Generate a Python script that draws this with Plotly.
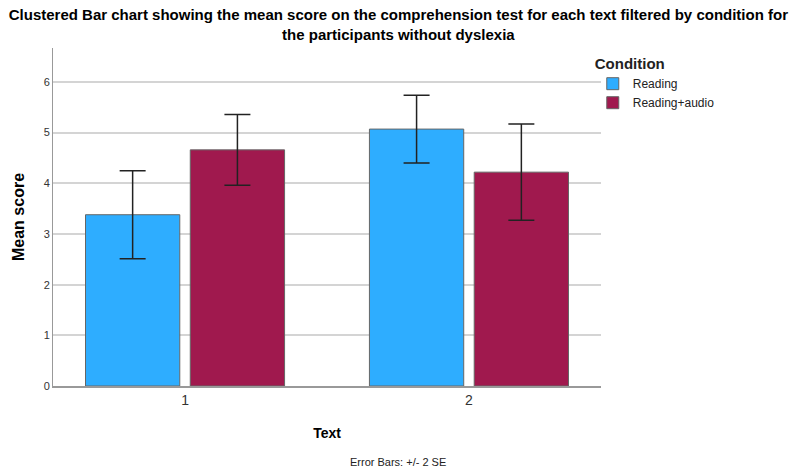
import plotly.graph_objects as go

texts = ["1", "2"]
conditions = ["Reading", "Reading+audio"]
means_reading = [3.38, 5.07]
means_audio = [4.66, 4.22]
err_reading = [0.87, 0.67]
err_audio = [0.70, 0.95]
colors = ["#2EADFF", "#A0194E"]

fig = go.Figure()
for name, vals, errs, col in [
    (conditions[0], means_reading, err_reading, colors[0]),
    (conditions[1], means_audio, err_audio, colors[1]),
]:
    fig.add_trace(go.Bar(
        x=texts, y=vals, name=name,
        marker=dict(color=col, line=dict(color="#666666", width=1)),
        error_y=dict(type="data", array=errs, visible=True, color="#222222",
                     thickness=1.5, width=13),
    ))

fig.update_layout(
    width=792, height=468,
    paper_bgcolor="white", plot_bgcolor="white",
    margin=dict(l=53, r=191, t=48, b=82, autoexpand=False),
    barmode="group", bargap=0.262, bargroupgap=0.10,
    font=dict(family="Liberation Sans, Arial, sans-serif", color="#000000"),
    title=dict(
        text="<b>Clustered Bar chart showing the mean score on the comprehension test for each text filtered by condition for<br>the participants without dyslexia</b>",
        xref="container", yref="container",
        x=0.503, xanchor="center", y=0.957, yanchor="top",
        font=dict(size=15, color="#000000"), automargin=False,
    ),
    legend=dict(
        title=dict(text="<b>Condition</b>", font=dict(size=15)),
        x=0.985, xanchor="left", y=0.995, yanchor="top",
        font=dict(size=12, color="#222222"),
        itemwidth=30, tracegroupgap=0, bgcolor="rgba(0,0,0,0)",
    ),
    xaxis=dict(
        type="category", range=[-0.465, 1.465], automargin=True,
        showline=True, linecolor="#999999", linewidth=1.5,
        ticks="", tickfont=dict(size=14, color="#333333"),
        title=dict(text="<b>Text</b>", font=dict(size=14), standoff=22),
        showgrid=False,
    ),
    yaxis=dict(
        range=[0, 6.67], tickvals=[0, 1, 2, 3, 4, 5, 6], automargin=False,
        showline=True, linecolor="#999999", linewidth=1,
        showgrid=True, gridcolor="#D4D4D4", gridwidth=1.5,
        ticks="", tickfont=dict(size=11, color="#333333"),
        title=dict(text="<b>Mean score</b>", font=dict(size=16)),
        zeroline=False,
    ),
)

fig.add_annotation(
    text="Error Bars: +/- 2 SE", xref="paper", yref="paper",
    x=0.63, y=-0.225, xanchor="center", yanchor="middle", showarrow=False,
    font=dict(size=11, color="#222222"),
)

fig.write_html("out.html", config={"displayModeBar": False},
               post_script="document.body.style.margin='0';")
